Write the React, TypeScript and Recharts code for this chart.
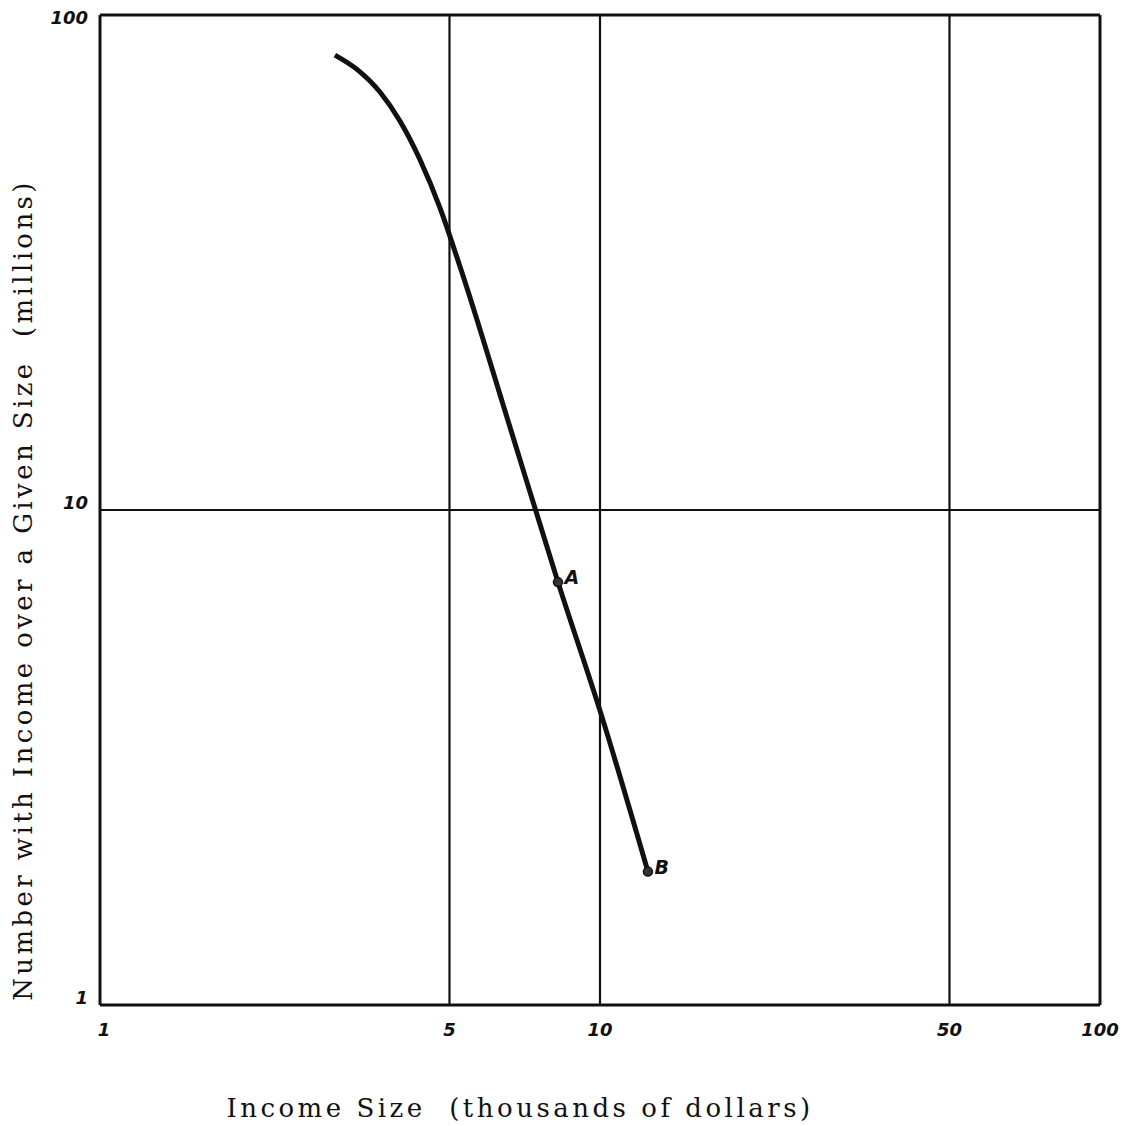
import React from 'react';
import { ComposedChart, Line, XAxis, YAxis, ReferenceLine, ReferenceDot, Label } from 'recharts';

const incomeSize = [2.95, 3.28, 3.63, 3.98, 4.37, 4.79, 5.25, 6.58, 8.24, 10.09, 12.47];
const numberOver = [83.0, 77.4, 69.9, 61.1, 50.9, 40.7, 31.0, 14.9, 7.15, 3.82, 1.86];
const xTicks = [1, 5, 10, 50, 100];
const yTicks = [1, 10, 100];
const xGrid = [5, 10, 50];
const yGrid = [10];
const markLabels = ['A', 'B'];
const markX = [8.24, 12.47];
const markY = [7.15, 1.86];

const data = incomeSize.map((x, i) => ({ x, y: numberOver[i] }));

const handFont = "'DejaVu Sans', sans-serif";
const serifFont = "'DejaVu Serif', serif";

const XTick = (props: any) => {
  const { x, y, payload } = props;
  return (
    <text x={x + (payload.value === 1 ? 4 : 0)} y={y + 18} textAnchor="middle" dominantBaseline="middle" fontFamily={handFont}
      fontWeight="bold" fontStyle="italic" fontSize={18} fill="#111">
      {payload.value}
    </text>
  );
};

const YTick = (props: any) => {
  const { x, y, payload } = props;
  const dy = payload.value === 100 ? 4 : -6;
  return (
    <text x={x - 4} y={y + dy} textAnchor="end" dominantBaseline="middle" fontFamily={handFont}
      fontWeight="bold" fontStyle="italic" fontSize={18} fill="#111">
      {payload.value}
    </text>
  );
};

const XTitle = (props: any) => {
  const vb = props.viewBox;
  return (
    <text x={vb.x + vb.width * 0.42} y={vb.y + 112} textAnchor="middle" fontFamily={serifFont}
      fontSize={26} letterSpacing={3.5} fill="#111" xmlSpace="preserve" style={{ whiteSpace: 'pre' }}>
      Income Size  (thousands of dollars)
    </text>
  );
};

const YTitle = (props: any) => {
  const vb = props.viewBox;
  const cx = vb.x + 25;
  const cy = vb.y + vb.height / 2 + 80;
  return (
    <text x={cx} y={cy} transform={`rotate(-90, ${cx}, ${cy})`} textAnchor="middle" dominantBaseline="middle"
      fontFamily={serifFont} fontSize={26} letterSpacing={3.4} fill="#111" xmlSpace="preserve" style={{ whiteSpace: 'pre' }}>
      Number with Income over a Given Size  (millions)
    </text>
  );
};

const MarkLabel = (props: any) => {
  const vb = props.viewBox;
  return (
    <text x={vb.x + 11} y={vb.y + 1} dominantBaseline="middle" fontFamily={handFont} fontWeight="bold"
      fontStyle="italic" fontSize={19} fill="#111">
      {props.value}
    </text>
  );
};

export default function App() {
  return (
    <div style={{ position: 'absolute', left: 0, top: 0, width: 1130, height: 1126, background: '#fff' }}>
      <ComposedChart width={1130} height={1126} data={data} margin={{ top: 15, right: 30, bottom: 0, left: 0 }}>
        <XAxis dataKey="x" type="number" scale="log" domain={[1, 100]} ticks={xTicks} allowDataOverflow
          height={121} axisLine={{ stroke: '#111', strokeWidth: 3 }} tickLine={false} tick={<XTick />}>
          <Label content={<XTitle />} />
        </XAxis>
        <YAxis type="number" scale="log" domain={[1, 100]} ticks={yTicks} allowDataOverflow width={100}
          axisLine={{ stroke: '#111', strokeWidth: 3 }} tickLine={false} tick={<YTick />}>
          <Label content={<YTitle />} />
        </YAxis>
        {xGrid.map((v) => (
          <ReferenceLine key={'gx' + v} x={v} stroke="#111" strokeWidth={2.2} />
        ))}
        {yGrid.map((v) => (
          <ReferenceLine key={'gy' + v} y={v} stroke="#111" strokeWidth={2.2} />
        ))}
        <ReferenceLine x={100} stroke="#111" strokeWidth={3} ifOverflow="visible" />
        <ReferenceLine y={100} stroke="#111" strokeWidth={3} ifOverflow="visible" />
        <Line dataKey="y" type="monotone" stroke="#111" strokeWidth={5} dot={false} isAnimationActive={false} />
        {markLabels.map((l, i) => (
          <ReferenceDot key={l} x={markX[i]} y={markY[i]} r={4.5} fill="#333" stroke="#111" strokeWidth={1.5}>
            <Label value={l} content={<MarkLabel />} />
          </ReferenceDot>
        ))}
      </ComposedChart>
    </div>
  );
}
